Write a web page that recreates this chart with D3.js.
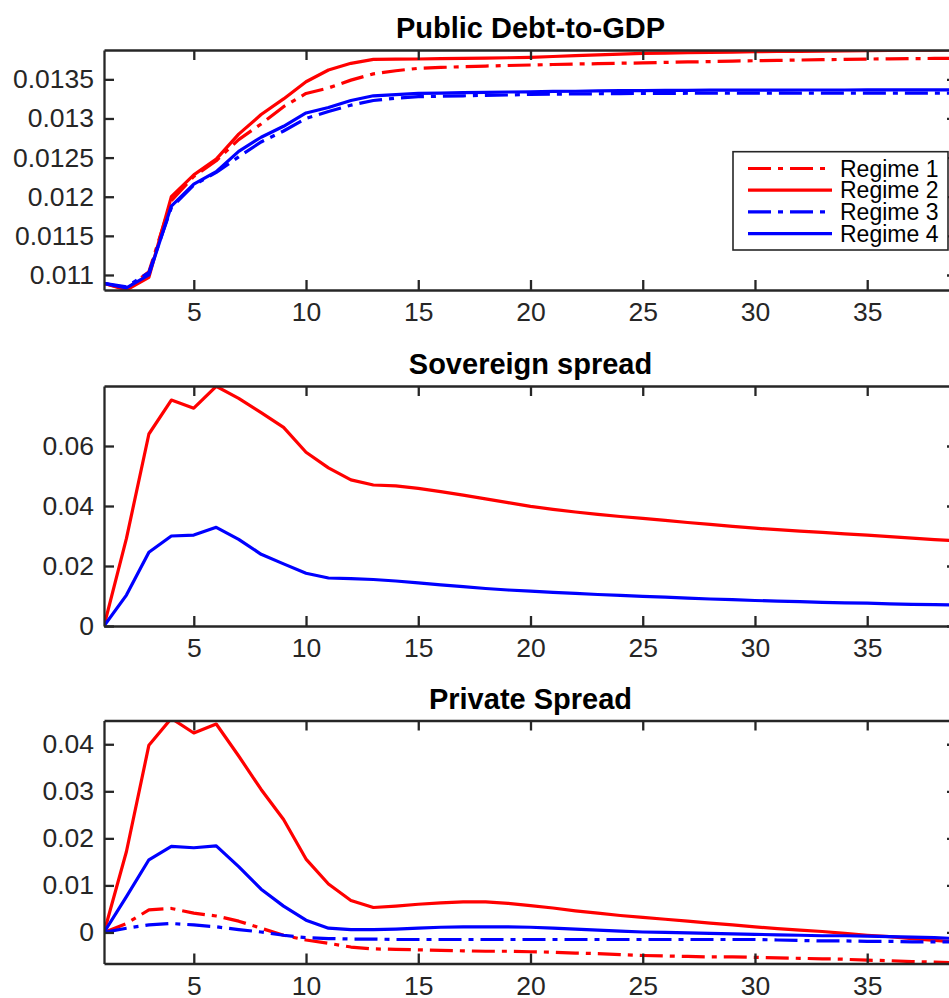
<!DOCTYPE html>
<html>
<head>
<meta charset="utf-8">
<script src="https://cdn.jsdelivr.net/npm/d3@7"></script>
<style>
  html, body { margin: 0; padding: 0; background: #fff; overflow: hidden; }
  svg { display: block; font-family: "Liberation Sans", Arial, Helvetica, sans-serif; }
</style>
</head>
<body>
<svg id="chart" width="949" height="998"></svg>
<script>
// ---------------- DATA ----------------
const periods = [1,2,3,4,5,6,7,8,9,10,11,12,13,14,15,16,17,18,19,20,21,22,23,24,25,26,27,28,29,30,31,32,33,34,35,36,37,38,39];
const regimeNames = ["Regime 1", "Regime 2", "Regime 3", "Regime 4"];
const xTickValues = [5, 10, 15, 20, 25, 30, 35];
const xTickLabels = ["5", "10", "15", "20", "25", "30", "35"];

// Public Debt-to-GDP
const debtRegime1 = [0.010894,0.01082,0.01104,0.01195,0.01226,0.01246,0.01273,0.01293,0.01315,0.01332,0.01339,0.01349,0.01357,0.01361,0.013641,0.013652,0.013662,0.01367,0.013677,0.013683,0.01369,0.013696,0.0137,0.013706,0.01371,0.013716,0.013722,0.013727,0.013733,0.013738,0.013742,0.013747,0.013751,0.013755,0.013759,0.013762,0.013765,0.013767,0.013769];
const debtRegime2 = [0.010894,0.010808,0.01097,0.0120,0.01228,0.01248,0.0128,0.01305,0.01325,0.013469,0.013619,0.013705,0.013756,0.013758,0.01376,0.013764,0.013768,0.013772,0.013776,0.013781,0.013792,0.013802,0.013812,0.013822,0.013832,0.013836,0.01384,0.013845,0.013849,0.013853,0.013856,0.013858,0.013861,0.013863,0.013866,0.013869,0.013872,0.013874,0.013876];
const debtRegime3 = [0.010894,0.01085,0.01103,0.01186,0.01215,0.01231,0.01251,0.0127,0.01284,0.0130,0.01309,0.01317,0.01323,0.01326,0.013278,0.013285,0.01329,0.013295,0.0133,0.013308,0.013311,0.013314,0.013316,0.013318,0.01332,0.013321,0.013322,0.013322,0.013323,0.013323,0.013324,0.013324,0.013324,0.013325,0.013325,0.013325,0.013325,0.013325,0.013325];
const debtRegime4 = [0.010894,0.010834,0.0110,0.01188,0.01216,0.01232,0.01258,0.01276,0.0129,0.01307,0.01314,0.01323,0.01329,0.013305,0.01332,0.013325,0.01333,0.013334,0.013338,0.013341,0.013345,0.013348,0.013352,0.013355,0.013357,0.013358,0.01336,0.013361,0.013362,0.013363,0.013363,0.013364,0.013364,0.013364,0.013365,0.013365,0.013365,0.013365,0.013365];

// Sovereign spread (only Regimes 2 and 4 are visible)
const sovRegime2 = [0,0.0292,0.064,0.0753,0.0726,0.0799,0.0759,0.0711,0.0662,0.0579,0.0527,0.0487,0.047,0.0467,0.0459,0.0448,0.0436,0.0424,0.0411,0.0399,0.0389,0.038,0.0372,0.0365,0.0359,0.0352,0.0345,0.0339,0.0332,0.0326,0.0321,0.0316,0.0312,0.0307,0.0303,0.0298,0.0293,0.0288,0.0284];
const sovRegime4 = [0,0.0103,0.0246,0.030,0.0303,0.0329,0.0289,0.0239,0.0207,0.0176,0.016,0.0158,0.0155,0.015,0.0144,0.0137,0.0131,0.0125,0.012,0.0116,0.0112,0.0109,0.0105,0.0102,0.0099,0.0096,0.0093,0.009,0.0088,0.0085,0.0083,0.0081,0.0079,0.0077,0.0076,0.0074,0.0072,0.0071,0.007];

// Private Spread
const privRegime1 = [0,0.0019,0.0048,0.0051,0.0041,0.0035,0.0024,0.0009,-0.0006,-0.0016,-0.0023,-0.0031,-0.0035,-0.0036,-0.0037,-0.0038,-0.0039,-0.004,-0.004,-0.0041,-0.0042,-0.0044,-0.0045,-0.0047,-0.0049,-0.005,-0.0051,-0.0052,-0.0052,-0.0053,-0.0054,-0.0055,-0.0056,-0.0057,-0.0059,-0.006,-0.0062,-0.0063,-0.0065];
const privRegime2 = [0,0.0172,0.0398,0.0455,0.0424,0.0443,0.0375,0.0304,0.024,0.0156,0.0103,0.0068,0.0053,0.0056,0.006,0.0063,0.0065,0.0065,0.0062,0.0057,0.0052,0.0046,0.0041,0.0036,0.0032,0.0028,0.0024,0.002,0.0016,0.0012,0.0008,0.0005,0.0002,-0.0002,-0.0006,-0.0009,-0.0013,-0.0017,-0.002];
const privRegime3 = [0,0.0009,0.0016,0.0019,0.0016,0.0012,0.0006,0.0001,-0.0006,-0.0011,-0.0013,-0.0014,-0.0014,-0.0015,-0.0015,-0.0015,-0.0015,-0.0015,-0.0015,-0.0015,-0.0015,-0.0015,-0.0015,-0.0015,-0.0015,-0.0015,-0.0015,-0.0015,-0.0015,-0.0015,-0.0016,-0.0017,-0.0018,-0.0018,-0.0019,-0.0019,-0.002,-0.002,-0.002];
const privRegime4 = [0,0.0076,0.01545,0.0183,0.018,0.0184,0.014,0.0092,0.0056,0.0026,0.0009,0.0006,0.0006,0.0007,0.0009,0.0011,0.0012,0.0012,0.0012,0.0011,0.0009,0.0007,0.0005,0.0003,0.0001,0,-0.0001,-0.0002,-0.0003,-0.0004,-0.0005,-0.0006,-0.0007,-0.0007,-0.0008,-0.0009,-0.001,-0.0011,-0.0013];

const debtTickValues = [0.011, 0.0115, 0.012, 0.0125, 0.013, 0.0135];
const debtTickLabels = ["0.011", "0.0115", "0.012", "0.0125", "0.013", "0.0135"];
const sovTickValues = [0, 0.02, 0.04, 0.06];
const sovTickLabels = ["0", "0.02", "0.04", "0.06"];
const privTickValues = [0, 0.01, 0.02, 0.03, 0.04];
const privTickLabels = ["0", "0.01", "0.02", "0.03", "0.04"];

const titles = ["Public Debt-to-GDP", "Sovereign spread", "Private Spread"];

// ---------------- STYLE / LAYOUT ----------------
const styles = {
  "Regime 1": { color: "#ff0000", dash: "23,7,5,7" },
  "Regime 2": { color: "#ff0000", dash: null },
  "Regime 3": { color: "#0000ff", dash: "23,7,5,7" },
  "Regime 4": { color: "#0000ff", dash: null }
};
const axisColor = "#262626";
const left = 104, right = 957;

const panels = [
  { title: titles[0], top: 50, bottom: 290, domain: [0.010808, 0.013875],
    ticks: debtTickValues, labels: debtTickLabels,
    series: [["Regime 1", debtRegime1], ["Regime 2", debtRegime2], ["Regime 3", debtRegime3], ["Regime 4", debtRegime4]] },
  { title: titles[1], top: 386, bottom: 626, domain: [0, 0.08],
    ticks: sovTickValues, labels: sovTickLabels,
    series: [["Regime 2", sovRegime2], ["Regime 4", sovRegime4]] },
  { title: titles[2], top: 720.5, bottom: 963.5, domain: [-0.0066, 0.04505],
    ticks: privTickValues, labels: privTickLabels,
    series: [["Regime 1", privRegime1], ["Regime 2", privRegime2], ["Regime 3", privRegime3], ["Regime 4", privRegime4]] }
];

const svg = d3.select("#chart");
const x = d3.scaleLinear().domain([1, 39]).range([left, right]);

panels.forEach((p, i) => {
  const y = d3.scaleLinear().domain(p.domain).range([p.bottom, p.top]);
  const g = svg.append("g");

  const clipId = "clip" + i;
  svg.append("clipPath").attr("id", clipId)
    .append("rect").attr("x", left).attr("y", p.top)
    .attr("width", right - left).attr("height", p.bottom - p.top);

  // lines
  const line = d3.line().x((d, j) => x(periods[j])).y(d => y(d));
  const lg = g.append("g").attr("clip-path", `url(#${clipId})`);
  p.series.forEach(([name, vals]) => {
    const s = styles[name];
    lg.append("path").datum(vals)
      .attr("d", line)
      .attr("fill", "none")
      .attr("stroke", s.color)
      .attr("stroke-width", 3.2)
      .attr("stroke-linejoin", "round")
      .attr("stroke-dasharray", s.dash)
      .attr("stroke-linecap", "butt");
  });

  // axes
  const styleAxis = sel => {
    sel.select(".domain").attr("stroke", axisColor).attr("stroke-width", 2.3);
    sel.selectAll(".tick line").attr("stroke", axisColor).attr("stroke-width", 2.3);
    sel.selectAll(".tick text").attr("fill", axisColor)
      .style("font-size", "26.5px").style("font-family", "'Liberation Sans', Arial, sans-serif");
  };

  const bottomAxis = d3.axisBottom(x).tickValues(xTickValues)
    .tickFormat((d, k) => xTickLabels[k]).tickSizeInner(-10).tickSizeOuter(0).tickPadding(12);
  g.append("g").attr("transform", `translate(0,${p.bottom})`).call(bottomAxis).call(styleAxis)
    .selectAll(".tick text").attr("dy", "0.72em");

  const topAxis = d3.axisTop(x).tickValues(xTickValues).tickFormat("").tickSizeInner(-10).tickSizeOuter(0);
  g.append("g").attr("transform", `translate(0,${p.top})`).call(topAxis).call(styleAxis);

  const leftAxis = d3.axisLeft(y).tickValues(p.ticks)
    .tickFormat((d, k) => p.labels[k]).tickSizeInner(-10).tickSizeOuter(0).tickPadding(10);
  g.append("g").attr("transform", `translate(${left},0)`).call(leftAxis).call(styleAxis);

  const rightAxis = d3.axisRight(y).tickValues(p.ticks).tickFormat("").tickSizeInner(-10).tickSizeOuter(0);
  g.append("g").attr("transform", `translate(${right},0)`).call(rightAxis).call(styleAxis);

  // title
  svg.append("text")
    .attr("x", (left + right) / 2).attr("y", p.top - 12)
    .attr("text-anchor", "middle")
    .style("font-size", "29px").style("font-weight", "bold").attr("fill", "#000")
    .text(p.title);
});

// ---------------- LEGEND ----------------
const leg = svg.append("g");
leg.append("rect").attr("x", 733).attr("y", 151.7).attr("width", 215).attr("height", 98.3)
  .attr("fill", "#fff").attr("stroke", axisColor).attr("stroke-width", 1.6);
const rowY = d3.scaleLinear().domain([0, 3]).range([168.5, 233.6]);
regimeNames.forEach((name, k) => {
  const s = styles[name];
  leg.append("line").attr("x1", 748).attr("x2", 832).attr("y1", rowY(k)).attr("y2", rowY(k))
    .attr("stroke", s.color).attr("stroke-width", 3.2).attr("stroke-dasharray", s.dash);
  leg.append("text").attr("x", 840).attr("y", rowY(k)).attr("dy", "0.36em")
    .style("font-size", "23px").attr("fill", "#000").text(name);
});
</script>
</body>
</html>
